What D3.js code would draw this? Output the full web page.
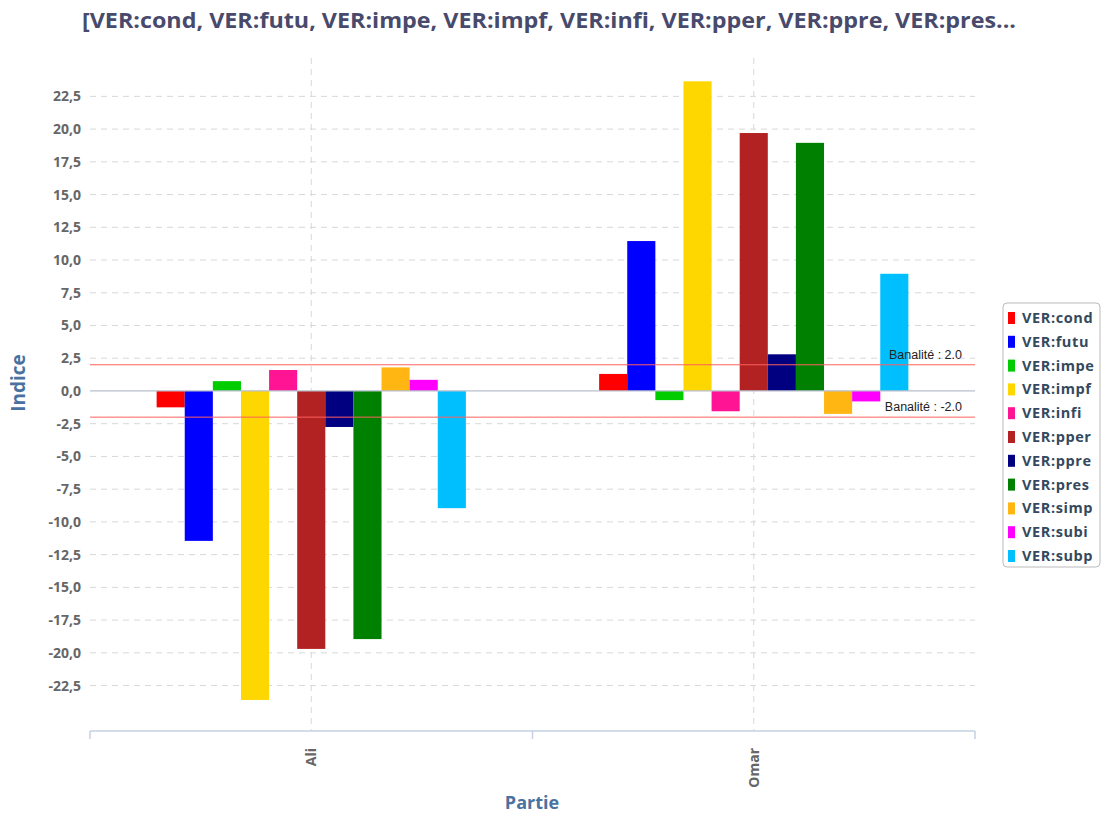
<!DOCTYPE html>
<html>
<head>
<meta charset="utf-8">
<script src="https://cdn.jsdelivr.net/npm/d3@7"></script>
<style>
  body { margin: 0; background: #fff; }
  svg { display: block; font-family: "Open Sans", "DejaVu Sans", sans-serif; }
</style>
</head>
<body>
<svg id="chart" width="1105" height="814"></svg>
<script>
// data
var parties = ['Ali', 'Omar']
var series = ['VER:cond', 'VER:futu', 'VER:impe', 'VER:impf', 'VER:infi', 'VER:pper',
              'VER:ppre', 'VER:pres', 'VER:simp', 'VER:subi', 'VER:subp']
var colors = ['#ff0000', '#0000ff', '#00cc00', '#ffd700', '#ff1493', '#b22222',
              '#000080', '#008000', '#ffb612', '#ff00ff', '#00bfff']
var aliValues  = [-1.25, -11.45, 0.75, -23.6, 1.6, -19.7, -2.75, -18.95, 1.8, 0.85, -8.95]
var omarValues = [1.3, 11.45, -0.7, 23.65, -1.55, 19.7, 2.8, 18.95, -1.75, -0.8, 8.95]
var yTicks = [-22.5, -20, -17.5, -15, -12.5, -10, -7.5, -5, -2.5, 0, 2.5, 5, 7.5, 10, 12.5, 15, 17.5, 20, 22.5]
var banalite = [2.0, -2.0]
var title = '[VER:cond, VER:futu, VER:impe, VER:impf, VER:infi, VER:pper, VER:ppre, VER:pres...'

var svg = d3.select('#chart')
var plotLeft = 90, plotRight = 975, plotTop = 58, plotBottom = 731

var x0 = d3.scaleBand().domain(parties).range([plotLeft, plotRight]).paddingInner(0).paddingOuter(0)
// bars fill roughly the middle 70% of each category
var x1 = d3.scaleBand().domain(series).range([0, x0.bandwidth()]).paddingOuter(2.37).paddingInner(0)
var y = d3.scaleLinear().domain([-25.97, 25.43]).range([plotBottom, plotTop])

// title
svg.append('text')
    .attr('x', 549).attr('y', 28)
    .attr('text-anchor', 'middle')
    .attr('textLength', 934).attr('lengthAdjust', 'spacingAndGlyphs')
    .style('font-size', '21px').style('font-weight', 'bold')
    .style('fill', '#484a6c')
    .text(title)

// horizontal grid
svg.append('g').selectAll('line').data(yTicks.filter(function(d){ return d != 0 }))
    .enter().append('line')
    .attr('x1', plotLeft).attr('x2', plotRight)
    .attr('y1', function(d){ return y(d) }).attr('y2', function(d){ return y(d) })
    .style('stroke', '#d8d8d8').style('stroke-dasharray', '6,5')

// vertical grid at category centres
svg.append('g').selectAll('line').data(parties)
    .enter().append('line')
    .attr('x1', function(d){ return x0(d) + x0.bandwidth() / 2 })
    .attr('x2', function(d){ return x0(d) + x0.bandwidth() / 2 })
    .attr('y1', plotTop).attr('y2', plotBottom)
    .style('stroke', '#d8d8d8').style('stroke-dasharray', '6,5')

// y axis labels
var yAxis = d3.axisLeft(y).tickValues(yTicks).tickSize(0).tickPadding(9)
    .tickFormat(function(d){ return d3.format('.1f')(d).replace('.', ',').replace('−', '-') })
var ya = svg.append('g').attr('transform', 'translate(' + plotLeft + ',0)').call(yAxis)
ya.select('.domain').remove()
ya.selectAll('text').style('font-size', '14px').style('font-weight', 'bold').style('fill', '#666')
    .style('font-family', '"Open Sans", sans-serif')

// bars
var values = [aliValues, omarValues]
parties.forEach(function(p, i) {
    svg.append('g').attr('transform', 'translate(' + x0(p) + ',0)')
        .selectAll('rect').data(values[i])
        .enter().append('rect')
        .attr('x', function(d, j){ return x1(series[j]) })
        .attr('width', x1.bandwidth())
        .attr('y', function(d){ return y(Math.max(0, d)) })
        .attr('height', function(d){ return Math.abs(y(d) - y(0)) })
        .style('fill', function(d, j){ return colors[j] })
})

// zero line
svg.append('line')
    .attr('x1', plotLeft).attr('x2', plotRight).attr('y1', y(0)).attr('y2', y(0))
    .style('stroke', '#b8bfcc').style('stroke-width', 1.2)

// banalite markers
banalite.forEach(function(b) {
    svg.append('line')
        .attr('x1', plotLeft).attr('x2', plotRight).attr('y1', y(b)).attr('y2', y(b))
        .style('stroke', '#ff6060').style('stroke-width', 1)
    svg.append('text')
        .attr('x', 962).attr('y', y(b) - 6)
        .attr('text-anchor', 'end')
        .style('font-family', '"Liberation Sans", Arial, sans-serif')
        .style('font-size', '12.5px').style('fill', '#222')
        .text('Banalité : ' + b.toFixed(1))
})

// x axis
svg.append('line').attr('x1', plotLeft).attr('x2', plotRight).attr('y1', plotBottom).attr('y2', plotBottom)
    .style('stroke', '#c4d0e2').style('stroke-width', 1.5)
svg.append('g').selectAll('line').data([plotLeft, x0('Omar'), plotRight])
    .enter().append('line')
    .attr('x1', function(d){ return d }).attr('x2', function(d){ return d })
    .attr('y1', plotBottom).attr('y2', plotBottom + 8)
    .style('stroke', '#c4d0e2').style('stroke-width', 1.5)
svg.append('g').selectAll('text').data(parties)
    .enter().append('text')
    .attr('transform', function(d){ return 'translate(' + (x0(d) + x0.bandwidth() / 2 + 5) + ',748) rotate(-90)' })
    .attr('text-anchor', 'end')
    .style('font-size', '14px').style('font-weight', 'bold').style('fill', '#666')
    .text(function(d){ return d })

// axis titles
svg.append('text')
    .attr('x', 532).attr('y', 809)
    .attr('text-anchor', 'middle')
    .style('font-size', '18px').style('font-weight', 'bold').style('fill', '#4a72a0')
    .text('Partie')
svg.append('text')
    .attr('transform', 'translate(25,383) rotate(-90)')
    .attr('text-anchor', 'middle')
    .style('font-size', '19px').style('font-weight', 'bold').style('fill', '#4a72a0')
    .text('Indice')

// legend
var legend = svg.append('g').attr('transform', 'translate(1003,303)')
legend.append('rect')
    .attr('width', 97).attr('height', 264).attr('rx', 4)
    .style('fill', '#fff').style('stroke', '#bbb').style('stroke-width', 1)
var items = legend.selectAll('g.item').data(series).enter().append('g')
    .attr('transform', function(d, i){ return 'translate(0,' + (15 + i * 23.8) + ')' })
items.append('rect')
    .attr('x', 5).attr('y', -6).attr('width', 7).attr('height', 12)
    .style('fill', function(d, i){ return colors[i] })
items.append('text')
    .attr('x', 19).attr('y', 5)
    .style('font-size', '14.5px').style('font-weight', 'bold').style('fill', '#34495e')
    .style('letter-spacing', '0.6px')
    .text(function(d){ return d })
</script>
</body>
</html>
